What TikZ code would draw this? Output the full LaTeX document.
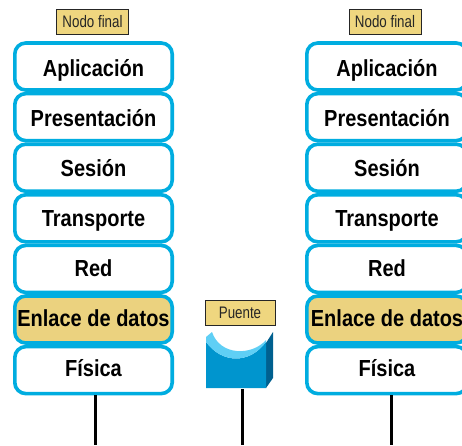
\documentclass[tikz,border=0pt]{standalone}
\usepackage{graphicx}
\usepackage{fontspec}
\setmainfont{Liberation Sans}
\definecolor{layerblue}{HTML}{00ADE0}
\definecolor{tagfill}{HTML}{EFD67F}
\definecolor{hlfill}{HTML}{EBD27F}
\definecolor{bridgeblue}{HTML}{0095CE}
\definecolor{bridgedark}{HTML}{00608F}
\definecolor{bridgelight}{HTML}{5FCFF5}
\newcommand{\layertext}[1]{\scalebox{0.93}[1.08]{#1}}
\newcommand{\tagtext}[1]{\scalebox{0.92}[1.15]{#1}}
\tikzset{
  x=1pt,y=-1pt,
  layerbox/.style={draw=layerblue,line width=3.6pt,rounded corners=11pt,fill=white,minimum width=157.4pt,minimum height=47pt,inner sep=0pt,font=\fontsize{21.5}{23}\selectfont\bfseries,text=black},
  baselift/.style={text height={18pt+#1*1pt},text depth={2.6pt-#1*1pt}},
  rightbox/.style={minimum width=160.4pt},
  hlbox/.style={layerbox,fill=hlfill},
  tagbox/.style={draw=black!85,line width=0.8pt,fill=tagfill,inner sep=0pt,font=\fontsize{14.5}{15}\selectfont,text=black!85},
  wire/.style={black,line width=3pt}
}
\begin{document}
\begin{tikzpicture}
\useasboundingbox (0,0) rectangle (462,445);
\path[fill=white] (0,0) rectangle (462,445);
% left stack
\node[tagbox,minimum width=72pt,minimum height=25pt] (tagL) at (92.5,22) {\tagtext{Nodo final}};
\node[layerbox,baselift=2] (a1) at (93.5,66.5) {\layertext{Aplicación}};
\node[layerbox,baselift=1.5] (a2) at (93.5,117.1) {\layertext{Presentación}};
\node[layerbox,baselift=1] (a3) at (93.5,167.7) {\layertext{Sesión}};
\node[layerbox,baselift=0.5] (a4) at (93.5,218.3) {\layertext{Transporte}};
\node[layerbox,baselift=0] (a5) at (93.5,268.9) {\layertext{Red}};
\node[hlbox,baselift=-0.5] (a6) at (93.5,319.5) {\layertext{Enlace de datos}};
\node[layerbox,baselift=-1] (a7) at (93.5,370.1) {\layertext{Física}};
% right stack
\node[tagbox,minimum width=72pt,minimum height=25pt] (tagR) at (385,22) {\tagtext{Nodo final}};
\node[layerbox,rightbox,baselift=2] (b1) at (387,66.5) {\layertext{Aplicación}};
\node[layerbox,rightbox,baselift=1.5] (b2) at (387,117.1) {\layertext{Presentación}};
\node[layerbox,rightbox,baselift=1] (b3) at (387,167.7) {\layertext{Sesión}};
\node[layerbox,rightbox,baselift=0.5] (b4) at (387,218.3) {\layertext{Transporte}};
\node[layerbox,rightbox,baselift=0] (b5) at (387,268.9) {\layertext{Red}};
\node[hlbox,rightbox,baselift=-0.5] (b6) at (387,319.5) {\layertext{Enlace de datos}};
\node[layerbox,rightbox,baselift=-1] (b7) at (387,370.1) {\layertext{Física}};
% bridge
\node[tagbox,minimum width=70pt,minimum height=25pt] (tagB) at (240,313) {\tagtext{Puente}};
\fill[bridgedark] (266,343) -- (273,332) -- (273,378) -- (266,388) -- cycle;
\fill[bridgeblue] (206,342) .. controls (222,364) and (250,364) .. (266,342) -- (266,388) -- (206,388) -- cycle;
\fill[bridgelight] (206,337) -- (212,332) .. controls (220,356) and (252,356) .. (266,340) -- (266,342) .. controls (250,364) and (222,364) .. (206,342) -- cycle;
\coordinate (bridgeBase) at (242,389);
\coordinate (endL) at (95,445);
\coordinate (endB) at (242,445);
\coordinate (endR) at (391,445);
\draw[wire] ([xshift=1.5pt]a7.south) -- (endL);
\draw[wire] (bridgeBase) -- (endB);
\draw[wire] ([xshift=4pt]b7.south) -- (endR);
\end{tikzpicture}
\end{document}
